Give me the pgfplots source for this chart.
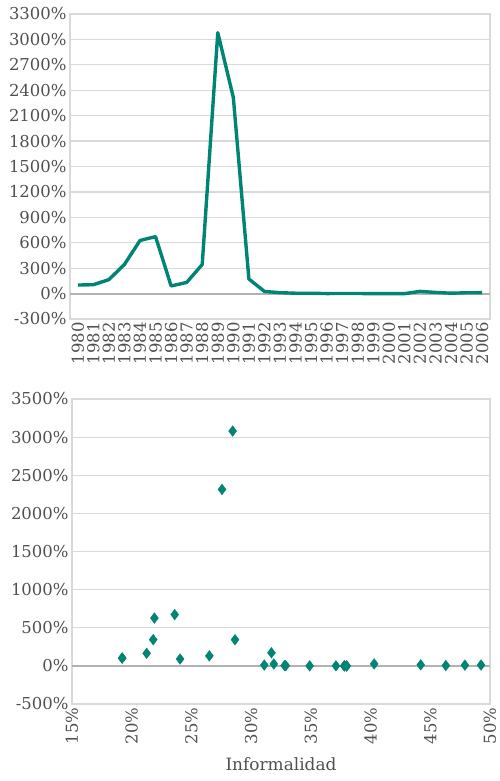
\documentclass[border=0pt]{standalone}
\usepackage{fontspec}
\setmainfont{DejaVu Serif}
\usepackage{pgfplots}
\pgfplotsset{compat=1.18}
\definecolor{teal1}{RGB}{0,133,117}
\definecolor{txt}{RGB}{80,80,80}
\definecolor{gridc}{RGB}{217,217,217}
\begin{document}
\begin{tikzpicture}[x=1bp,y=1bp]
\useasboundingbox (0,0) rectangle (500,781);
\pgfplotsset{
  common/.style={
    anchor=south west, scale only axis,
    ymajorgrids, grid style={gridc, line width=1.2bp},
    axis line style={gridc, line width=1.2bp},
    major tick length=0,
    tick label style={font=\fontsize{16.5}{18}\selectfont, text=txt},
    xticklabel style={rotate=90, anchor=east},
    extra y ticks={0}, extra y tick labels={},
    extra y tick style={grid style={gray!60, line width=2bp}},
  }
}
\begin{axis}[common,
  at={(70bp,462bp)}, width=420bp, height=305bp,
  xmin=1979.5, xmax=2006.5, ymin=-300, ymax=3300,
  ytick={-300,0,300,600,900,1200,1500,1800,2100,2400,2700,3000,3300},
  yticklabels={-300\%,0\%,300\%,600\%,900\%,1200\%,1500\%,1800\%,2100\%,2400\%,2700\%,3000\%,3300\%},
  xtick={1980,1981,1982,1983,1984,1985,1986,1987,1988,1989,1990,1991,1992,1993,1994,1995,1996,1997,1998,1999,2000,2001,2002,2003,2004,2005,2006},
  xticklabels={1980,1981,1982,1983,1984,1985,1986,1987,1988,1989,1990,1991,1992,1993,1994,1995,1996,1997,1998,1999,2000,2001,2002,2003,2004,2005,2006},
]
\addplot[teal1, line width=3.4bp, line join=round, mark=none] coordinates {
(1980,100.8)(1981,104.5)(1982,164.8)(1983,343.8)(1984,626.7)(1985,672.2)(1986,90.1)(1987,131.3)(1988,343.0)(1989,3079.5)(1990,2314.0)(1991,171.7)(1992,24.9)(1993,10.6)(1994,4.2)(1995,3.4)(1996,0.2)(1997,0.5)(1998,0.9)(1999,-1.2)(2000,-0.9)(2001,-1.1)(2002,25.9)(2003,13.4)(2004,4.4)(2005,9.6)(2006,10.9)
};
\end{axis}
\begin{axis}[common,
  at={(72bp,77bp)}, width=418bp, height=305bp,
  xmin=15, xmax=50, ymin=-500, ymax=3500,
  ytick={-500,0,500,1000,1500,2000,2500,3000,3500},
  yticklabels={-500\%,0\%,500\%,1000\%,1500\%,2000\%,2500\%,3000\%,3500\%},
  xtick={15,20,25,30,35,40,45,50},
  xticklabels={15\%,20\%,25\%,30\%,35\%,40\%,45\%,50\%},
  xlabel={Informalidad},
  xlabel style={font=\fontsize{17}{19}\selectfont, text=txt, yshift=-7bp},
]
\addplot[only marks, mark=diamond*, mark size=5.4bp, mark options={fill=teal1, draw=teal1, line width=0.3bp}] coordinates {
(19.2,100.8)(19.2,104.5)(21.25,164.8)(21.8,343.8)(21.9,626.7)(23.6,672.2)(24.05,90.1)(26.5,131.3)(28.65,343.0)(28.45,3079.5)(27.56,2314.0)(31.7,171.7)(31.9,24.9)(31.1,10.6)(32.8,4.2)(32.9,3.4)(34.9,0.2)(37.1,0.5)(37.8,0.9)(38.0,-1.2)(38.0,-0.9)(37.8,-1.1)(40.3,25.9)(44.2,13.4)(46.3,4.4)(47.9,9.6)(49.25,10.9)
};
\end{axis}
\end{tikzpicture}
\end{document}
